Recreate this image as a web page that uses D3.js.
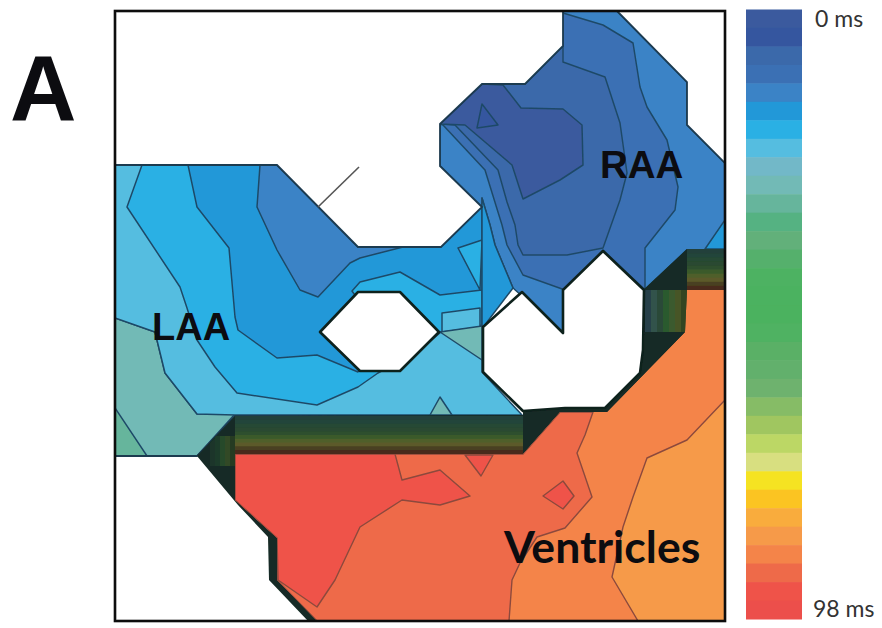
<!DOCTYPE html>
<html><head><meta charset="utf-8">
<script src="https://cdn.jsdelivr.net/npm/d3@7"></script>
<style>html,body{margin:0;background:#fff}svg{display:block}</style></head>
<body><svg id="c" width="882" height="628"></svg>
<script>
// Activation-time colour levels, top (0 ms) to bottom (98 ms)
const levelColors=["#3a5a9e","#36569f","#3b69aa","#3b70b4","#3a83c6","#2298d8","#2bb0e4","#55bde0","#72b8c8","#72bab6","#66b59c","#55b282","#62b07a","#55b06c","#4db262","#4cb260","#4cb25f","#50b262","#5ab066","#62b06c","#6eb26e","#86bc66","#a0c660","#bcd765","#d8df80","#f5e324","#fbc423","#f9ac3c","#f69a48","#f4844a","#ee6a4a","#ef5348","#ec4f4b"];
const barLabels=["0 ms","98 ms"];
// Map geometry in map units (0-610)
const atrium=[[0,154],[162,154],[243,236],[326,236],[367,196],[325,155],[325,113],[367,73],[410,73],[448,35],[448,0],[502,0],[572,71],[572,114],[610,152],[610,239],[572,239],[530,279],[530,362],[490,400],[407,405],[120,405],[82,445],[0,445]];
const scar=[[82,445],[120,405],[408,404],[408,396],[490,395],[525,360],[528,279],[572,238],[610,238],[610,610],[193,610],[154,569],[153,526],[123,494]];
const ventricle=[[120,443],[408,443],[445,401],[492,401],[570,321],[572,279],[610,279],[610,610],[202,610],[162,569],[162,527],[120,489]];
const holeA=[[205,321],[243,281],[285,281],[324,321],[285,360],[245,360]];
const holeB=[[368,316],[407,281],[448,322],[448,279],[488,240],[529,279],[528,339],[525,362],[490,397],[450,397],[408,400],[368,361]];
const vesselTick=[[203,196],[244,156]];
// Atrial isochrones [level, outline], painted in order
const laaTeal=[[0,307],[40,321],[50,362],[82,403],[120,403],[82,445],[0,445]];
const laaGreen=[[0,397],[32,445],[0,445]];
const laaSky=[[0,154],[367,154],[367,361],[407,404],[120,404],[82,403],[50,362],[40,321],[0,307]];
const laaCyan=[[27,154],[12,196],[65,276],[72,297],[82,329],[100,356],[122,382],[202,394],[243,376],[263,362],[305,339],[326,321],[367,314],[367,154]];
const laaMid=[[73,154],[82,196],[114,237],[120,306],[123,319],[162,347],[202,344],[243,361],[265,319],[237,280],[245,271],[285,261],[325,284],[367,279],[367,154]];
const laaDeep=[[145,154],[142,196],[162,239],[185,279],[203,286],[235,252],[245,247],[288,236],[243,236],[162,154]];
const patchBright=[[343,237],[367,229],[365,279]];
const patchPale=[[327,302],[365,297],[365,316],[327,321]];
const patchTeal=[[325,321],[367,315],[367,349]];
const patchSmall=[[325,386],[315,404],[337,404]];
const raaD=[[325,113],[367,73],[410,73],[448,35],[448,0],[502,0],[572,71],[572,114],[610,152],[610,239],[530,279],[448,322],[398,277],[380,234],[375,214],[367,187],[367,196],[325,155]];
const raaStrip=[[367,187],[375,214],[380,234],[398,277],[369,315],[367,315]];
const raaC=[[448,2],[488,14],[518,32],[525,76],[532,96],[552,129],[563,176],[560,199],[530,237],[530,279],[488,239],[450,279],[408,264],[392,234],[387,214],[370,159],[328,114],[325,113],[367,73],[410,73],[448,35]];
const raaB=[[448,51],[490,66],[505,112],[512,162],[505,189],[488,237],[452,244],[408,244],[403,234],[400,214],[392,191],[383,159],[340,114],[325,113],[367,73],[410,73],[448,35]];
const raaA=[[388,74],[406,97],[448,98],[467,114],[468,154],[445,169],[408,188],[397,154],[350,114],[325,113],[367,73]];
const raaCore=[[367,93],[383,114],[362,117]];
const raaCorner=[[610,209],[590,238],[610,238]];
const atrialLayers=[[9,laaTeal],[10,laaGreen],[7,laaSky],[6,laaCyan],[5,laaMid],[4,laaDeep],[6,patchBright],[7,patchPale],[9,patchTeal],[9,patchSmall],[4,raaD],[5,raaStrip],[3,raaC],[2,raaB],[0,raaA],[1,raaCore],[5,raaCorner]];
// Ventricular isochrones
const venLight=[[610,389],[572,429],[532,447],[518,486],[508,516],[497,566],[523,610],[610,610]];
const venMid=[[478,401],[470,424],[462,442],[477,486],[450,517],[422,526],[405,552],[397,569],[394,610],[202,610],[162,569],[162,527],[120,489],[120,443],[408,443],[445,401]];
const venRed=[[120,443],[280,443],[287,469],[325,459],[355,485],[325,494],[287,489],[245,516],[220,569],[202,596],[163,569],[162,527],[120,489]];
const venTri=[[350,444],[366,465],[378,444]];
const venDiamond=[[428,485],[448,470],[459,485],[448,498]];
const ventricleLayers=[[28,venLight],[30,venMid],[31,venRed],[31,venTri],[31,venDiamond]];
// Compressed isochrones across the conduction block
const blockRows=["#21413a","#23443a","#274a35","#2a4a30","#2f4f2e","#3a5a2c","#4f5f2c","#5c5a2a","#4a3f20","#4a2a1e"];
const blockCols=["#263f48","#31524c","#2a4a38","#2b5a2e","#3a5a2d","#475426","#324423"];
const wedgeCols=["#1a3429","#1f3b2a","#28492b","#314a28","#263a24"];

const svg=d3.select("#c");
svg.append("rect").attr("width",882).attr("height",628).attr("fill","#fff");
const defs=svg.append("defs");
defs.append("filter").attr("id","soft").append("feGaussianBlur").attr("stdDeviation",0.45);
const map=svg.append("g").attr("filter","url(#soft)");
const x=d3.scaleLinear().domain([0,610]).range([115,725]);
const y=d3.scaleLinear().domain([0,610]).range([11,621]);
const path=d3.line().x(d=>x(d[0])).y(d=>y(d[1])).curve(d3.curveLinearClosed);
const open=d3.line().x(d=>x(d[0])).y(d=>y(d[1]));
defs.append("clipPath").attr("id","ca").append("path").attr("d",path(atrium));
defs.append("clipPath").attr("id","cv").append("path").attr("d",path(ventricle));
defs.append("clipPath").attr("id","cw").append("path").attr("d",path([[82,445],[120,405],[120,489]]));

// Atrial tissue
map.append("g").attr("clip-path","url(#ca)").selectAll("path").data(atrialLayers).join("path")
  .attr("d",d=>path(d[1])).attr("fill",d=>levelColors[d[0]])
  .attr("stroke","#1f4a68").attr("stroke-width",1.5).attr("stroke-linejoin","round");
map.append("path").attr("d",path(atrium)).attr("fill","none").attr("stroke","#1c3a50").attr("stroke-width",1.8);

// Dark conduction block
map.append("path").attr("d",path(scar)).attr("fill","#162c26");
function stripes(rowsOrCols,x0,x1,y0,y1,horizontal,clip){
  const b=d3.scaleBand().domain(d3.range(rowsOrCols.length)).range(horizontal?[y(y0),y(y1)]:[x(x0),x(x1)]);
  const g=map.append("g");
  if(clip)g.attr("clip-path",clip);
  g.selectAll("rect").data(rowsOrCols).join("rect")
   .attr("x",(d,i)=>horizontal?x(x0):b(i)).attr("y",(d,i)=>horizontal?b(i):y(y0))
   .attr("width",horizontal?x(x1)-x(x0):b.bandwidth()+.5).attr("height",horizontal?b.bandwidth()+.5:y(y1)-y(y0))
   .attr("fill",d=>d);
}
stripes(blockRows,120,408,405,443,true);
stripes(blockRows,572,610,238,279,true);
stripes(blockCols,530,572,279,321,false);
stripes(wedgeCols,95,120,425,455,false,"url(#cw)");

// Ventricular tissue
const ven=map.append("g").attr("clip-path","url(#cv)");
ven.append("path").attr("d",path(ventricle)).attr("fill",levelColors[29]);
ven.selectAll("path.l").data(ventricleLayers).join("path").attr("class","l")
  .attr("d",d=>path(d[1])).attr("fill",d=>levelColors[d[0]])
  .attr("stroke","#8c4a3c").attr("stroke-width",1.4).attr("stroke-linejoin","round");

// Unmapped holes and vessel tick
map.selectAll("path.h").data([holeA,holeB]).join("path").attr("class","h")
  .attr("d",path).attr("fill","#fff").attr("stroke","#10201e").attr("stroke-width",2.6).attr("stroke-linejoin","round");
map.append("path").attr("d",open(vesselTick)).attr("fill","none").attr("stroke","#555").attr("stroke-width",1.6);

// Frame
map.append("rect").attr("x",x(0)).attr("y",y(0)).attr("width",x(610)-x(0)).attr("height",y(610)-y(0))
  .attr("fill","none").attr("stroke","#111").attr("stroke-width",2.6);

// Colour bar
const band=d3.scaleBand().domain(d3.range(levelColors.length)).range([9.5,619]);
map.append("g").selectAll("rect").data(levelColors).join("rect")
  .attr("x",746).attr("width",56).attr("y",(d,i)=>band(i)).attr("height",band.bandwidth()+.5).attr("fill",d=>d);
svg.selectAll("text.bar").data(barLabels).join("text").attr("class","bar")
  .attr("x",(d,i)=>i?813:815).attr("y",(d,i)=>i?617:27).text(d=>d)
  .attr("font-family","Lato").attr("font-size",23).attr("fill","#333");

// Region labels
const labels=[["A",10,120,"Liberation Sans",92],["RAA",600,178,"Liberation Sans",38.5],["LAA",152,340,"Liberation Sans",38],["Ventricles",504,563,"Lato",44.5]];
svg.selectAll("text.lab").data(labels).join("text").attr("class","lab")
  .attr("x",d=>d[1]).attr("y",d=>d[2]).text(d=>d[0])
  .attr("font-family",d=>d[3]).attr("font-size",d=>d[4]).attr("font-weight",700).attr("fill","#0c0c10");
</script></body></html>
